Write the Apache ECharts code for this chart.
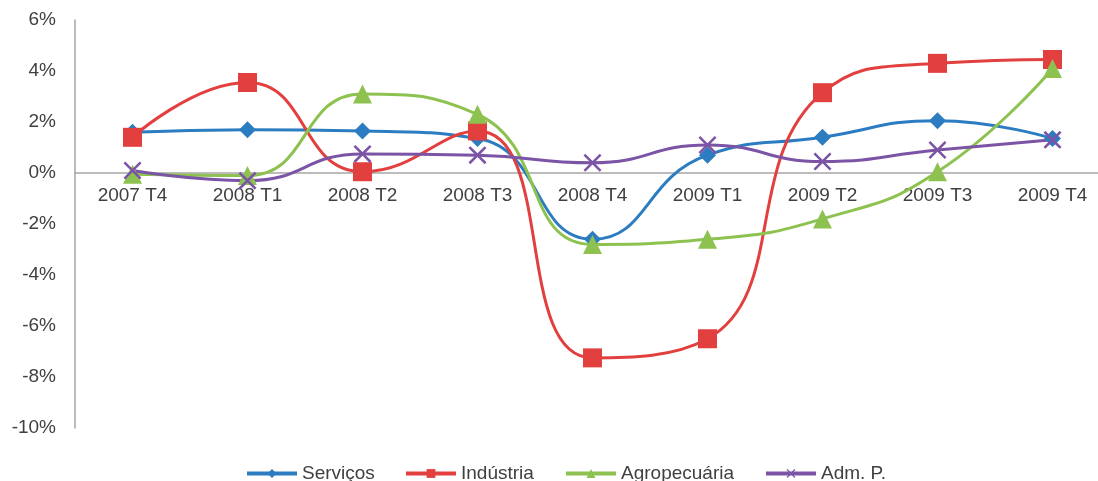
<!DOCTYPE html>
<html>
<head>
<meta charset="utf-8">
<script src="https://cdn.jsdelivr.net/npm/echarts@6/dist/echarts.min.js"></script>
<style>
html,body{margin:0;padding:0;background:#fff;}
#chart{width:1098px;height:481px;}
</style>
</head>
<body>
<div id="chart"></div>
<script>
// trimestres
var categories = ['2007 T4', '2008 T1', '2008 T2', '2008 T3', '2008 T4', '2009 T1', '2009 T2', '2009 T3', '2009 T4'];
var servicos = [1.6, 1.7, 1.65, 1.35, -2.6, 0.7, 1.4, 2.05, 1.35];
var industria = [1.4, 3.55, 0.05, 1.65, -7.25, -6.5, 3.15, 4.3, 4.45];
var agropecuaria = [-0.05, -0.1, 3.1, 2.3, -2.8, -2.6, -1.8, 0.05, 4.1];
var admP = [0.1, -0.3, 0.75, 0.7, 0.4, 1.1, 0.45, 0.9, 1.3];
var seriesNames = ['Serviços', 'Indústria', 'Agropecuária', 'Adm. P.'];

var textColor = '#404040';
var xSymbol = 'path://M0,1L1,0L5,4L9,0L10,1L6,5L10,9L9,10L5,6L1,10L0,9L4,5Z';

var myChart = echarts.init(document.getElementById('chart'));

function mkSeries(name, data, color, symbol, size) {
    return {
        name: name,
        type: 'line',
        data: data,
        smooth: 0.5,
        symbol: symbol,
        symbolSize: size,
        lineStyle: { width: 3, color: color },
        itemStyle: { color: color },
        emphasis: { disabled: true }
    };
}

// one legend per item so each sits where Excel put it
var legendLeft = [240, 399, 559, 759];
var legends = seriesNames.map(function (n, i) {
    return {
        top: 459,
        left: legendLeft[i],
        itemWidth: 50,
        itemHeight: 11,
        lineStyle: { width: 4 },
        textStyle: { fontSize: 19, color: textColor },
        data: [n]
    };
});

var option = {
    animation: false,
    backgroundColor: '#fff',
    textStyle: { fontFamily: 'Liberation Sans' },
    grid: { left: 75, width: 1035, top: 20, height: 408, outerBoundsMode: 'none' },
    legend: legends,
    xAxis: {
        type: 'category',
        data: categories,
        boundaryGap: true,
        offset: -255,
        axisLine: { onZero: false, lineStyle: { color: '#a6a6a6', width: 1.5 } },
        axisTick: { show: false },
        axisLabel: { color: textColor, fontSize: 19, margin: 13 },
        splitLine: { show: false }
    },
    yAxis: {
        type: 'value',
        min: -10,
        max: 6,
        interval: 2,
        axisLine: { show: true, lineStyle: { color: '#a6a6a6', width: 1.5 } },
        axisTick: { show: false },
        axisLabel: { color: textColor, fontSize: 19, margin: 19, formatter: '{value}%' },
        splitLine: { show: false }
    },
    series: [
        mkSeries(seriesNames[0], servicos, '#2b7cc1', 'diamond', 17),
        mkSeries(seriesNames[1], industria, '#e2403f', 'rect', 19),
        mkSeries(seriesNames[2], agropecuaria, '#8dc250', 'triangle', 19),
        mkSeries(seriesNames[3], admP, '#7c54a6', xSymbol, 18)
    ]
};

myChart.setOption(option);
</script>
</body>
</html>
